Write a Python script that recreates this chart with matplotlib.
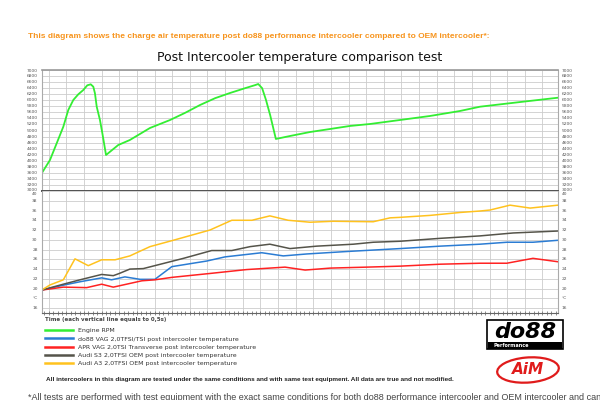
import matplotlib
matplotlib.use("Agg")
import matplotlib.pyplot as plt
from matplotlib.patches import Rectangle, Ellipse
import numpy as np

# time axis in seconds, 0 = left edge of the chart (one vertical line = 0.5 s)
rpm_time = [0.0, 0.235, 0.425, 0.613, 0.754, 0.896, 1.038, 1.18, 1.293, 1.39, 1.463, 1.51,
            1.56, 1.653, 1.72, 1.824, 2.17, 2.50, 3.07, 3.64, 4.06, 4.49, 4.92, 5.34, 5.77,
            6.05, 6.14, 6.25, 6.36, 6.48, 6.64, 7.04, 7.61, 8.18, 8.74, 9.31, 10.16, 11.01,
            11.86, 12.43, 13.56, 14.64]
rpm_values = [3585, 4025, 4577, 5126, 5678, 6008, 6197, 6339, 6494, 6527, 6448, 6230,
              5787, 5340, 4908, 4190, 4520, 4686, 5083, 5347, 5580, 5843, 6070, 6240, 6400,
              6500, 6537, 6400, 6010, 5500, 4720, 4818, 4950, 5050, 5150, 5215, 5347, 5480,
              5645, 5787, 5940, 6084]

do88_time = [0.0, 0.613, 1.086, 1.70, 1.98, 2.36, 2.79, 3.21, 3.69, 4.68, 5.20, 6.24, 6.85,
             7.52, 8.65, 10.16, 11.30, 12.43, 13.19, 13.93, 14.64]
do88_temp = [19.7, 20.7, 21.4, 22.2, 21.8, 22.4, 21.9, 21.9, 24.5, 25.65, 26.5, 27.35, 26.7,
             27.1, 27.6, 28.2, 28.7, 29.1, 29.5, 29.5, 29.9]

apr_time = [0.0, 0.613, 1.276, 1.70, 2.03, 2.84, 3.21, 3.69, 4.77, 5.81, 6.90, 7.47, 8.18,
            9.22, 10.16, 11.30, 12.43, 13.19, 13.93, 14.64]
apr_temp = [19.7, 20.3, 20.2, 20.9, 20.3, 21.6, 21.8, 22.3, 23.1, 23.9, 24.4, 23.8, 24.2,
            24.4, 24.6, 25.0, 25.2, 25.2, 26.2, 25.5]

s3_time = [0.0, 0.613, 1.086, 1.70, 2.03, 2.20, 2.50, 2.88, 3.26, 4.02, 4.82, 5.39, 5.91,
           6.47, 7.04, 7.80, 8.84, 9.40, 10.16, 11.30, 12.43, 13.37, 14.64]
s3_temp = [19.7, 20.9, 21.8, 22.9, 22.65, 23.1, 24.0, 24.1, 24.8, 26.2, 27.8, 27.8, 28.6,
           29.1, 28.2, 28.7, 29.1, 29.5, 29.7, 30.3, 30.8, 31.4, 31.8]

a3_time = [0.0, 0.235, 0.613, 0.944, 1.32, 1.70, 2.08, 2.50, 3.07, 3.73, 4.77, 5.39, 5.96,
           6.47, 6.99, 7.61, 8.27, 9.40, 9.88, 10.16, 11.01, 11.86, 12.43, 12.71, 13.28,
           13.85, 14.64]
a3_temp = [19.7, 20.75, 21.8, 26.1, 24.7, 25.9, 25.9, 26.7, 28.6, 29.9, 32.0, 34.0, 34.0,
           34.9, 34.0, 33.6, 33.8, 33.7, 34.5, 34.6, 35.0, 35.6, 35.9, 36.1, 37.1, 36.5, 37.1]

labels = ["Engine RPM",
          "do88 VAG 2,0TFSI/TSI post intercooler temperature",
          "APR VAG 2,0TSI Transverse post intercooler temperature",
          "Audi S3 2,0TFSI OEM post intercooler temperature",
          "Audi A3 2,0TFSI OEM post intercooler temperature"]
colors = ["#33ee33", "#2b7cd3", "#ff2222", "#55544a", "#ffc21e"]

rpm_ticks = list(range(3000, 7001, 200))
temp_ticks = list(range(16, 41, 2))
temp_ticklabels = ["°C" if t == 18 else str(t) for t in temp_ticks]

W, H = 600, 400
fig = plt.figure(figsize=(6, 4), dpi=100)
fig.patch.set_facecolor("white")


def fx(px):
    return px / W


def fy(py):
    return 1 - py / H


left, right = 41.7, 558
ax_rpm = fig.add_axes([fx(left), fy(191), fx(right - left), (191 - 70) / H])
ax_t = fig.add_axes([fx(left), fy(313), fx(right - left), (313 - 191) / H])

tick_font = dict(fontsize=3.2, color="#555555", va="center")

grid_x = np.arange(0.2, 14.3, 0.5)
for ax in (ax_rpm, ax_t):
    ax.set_xlim(0, 14.64)
    ax.set_xticks(grid_x)
    ax.set_xticklabels([])
    ax.grid(True, color="#cccccc", lw=0.6)
    ax.set_axisbelow(True)
    ax.tick_params(axis="y", length=0, labelleft=False)
    ax.tick_params(axis="x", length=0)
    for s in ax.spines.values():
        s.set_color("#aaaaaa")
        s.set_linewidth(0.8)

ax_rpm.plot(rpm_time, rpm_values, color=colors[0], lw=1.3)
ax_rpm.set_ylim(3000, 7000)
ax_rpm.set_yticks(rpm_ticks)
ax_rpm.spines["bottom"].set_color("#505050")
ax_rpm.spines["bottom"].set_linewidth(1.4)
ax_rpm.spines["top"].set_color("#999999")
ax_rpm.spines["top"].set_linewidth(1.2)

ax_t.plot(do88_time, do88_temp, color=colors[1], lw=1.1)
ax_t.plot(apr_time, apr_temp, color=colors[2], lw=1.1)
ax_t.plot(s3_time, s3_temp, color=colors[3], lw=1.1)
ax_t.plot(a3_time, a3_temp, color=colors[4], lw=1.1)
ax_t.set_ylim(15, 40)
ax_t.set_yticks(temp_ticks)
ax_t.spines["top"].set_visible(False)
ax_t.spines["bottom"].set_color("#666666")
ax_t.set_xticks(np.arange(0.075, 14.64, 0.125), minor=True)
ax_t.tick_params(axis="x", which="both", direction="inout", length=2.5, color="#777777",
                 width=0.6)

# y labels on both sides, nudged at the panel edges like in the source image
for v in rpm_ticks:
    py = 191 - (v - 3000) / 4000 * 121
    if v == 7000:
        py += 1.5
    if v == 3000:
        py -= 1.4
    fig.text(fx(left - 4), fy(py), str(v), ha="right", **tick_font)
    fig.text(fx(right + 4), fy(py), str(v), ha="left", **tick_font)
for v, lab in zip(temp_ticks, temp_ticklabels):
    py = 313 - (v - 15) / 25 * 122
    if v == 40:
        py += 3.2
    fig.text(fx(left - 4), fy(py), lab, ha="right", **tick_font)
    fig.text(fx(right + 4), fy(py), lab, ha="left", **tick_font)

fig.text(fx(28), fy(37), "This diagram shows the charge air temperature post do88 performance "
         "intercooler compared to OEM intercooler*:", color="#f7941d", fontsize=6,
         fontweight="bold", family="Liberation Sans", va="center")
fig.text(0.5, fy(57), "Post Intercooler temperature comparison test", fontsize=9,
         ha="center", va="center", color="#111111")
fig.text(fx(45), fy(319), "Time (each vertical line equals to 0,5s)", fontsize=4,
         fontweight="bold", color="#444444", va="center")

handles = ax_rpm.get_lines() + ax_t.get_lines()
fig.legend(handles, labels, loc="upper left", bbox_to_anchor=(fx(42), fy(325.5)),
           frameon=False, fontsize=4.5, handlelength=4.6, handletextpad=0.8,
           labelspacing=0.45, borderaxespad=0, labelcolor="#333333")
for ln in fig.legends[0].get_lines():
    ln.set_linewidth(1.8)

fig.text(fx(46), fy(380), "All intercoolers in this diagram are tested under the same conditions "
         "and with same test equipment. All data are true and not modified.",
         fontsize=4.6, fontweight="bold", family="Liberation Sans", color="#222222",
         va="center")
fig.text(fx(28), fy(397), "*All tests are performed with test equipment with the exact same "
         "conditions for both do88 performance intercooler and OEM intercooler and can",
         fontsize=6.5, family="Liberation Sans", color="#444444", va="center")

# do88 logo
fig.add_artist(Rectangle((fx(487), fy(349)), fx(76), 29 / H, transform=fig.transFigure,
                         facecolor="white", edgecolor="black", lw=1.2))
fig.add_artist(Rectangle((fx(488), fy(349)), fx(74), 7 / H, transform=fig.transFigure,
                         facecolor="black", edgecolor="none"))
fig.text(fx(525), fy(332), "do88", fontsize=16, fontweight="heavy", style="italic",
         ha="center", va="center", color="black")
fig.text(fx(493), fy(345.5), "Performance", fontsize=3.5, fontweight="bold",
         color="white", va="center")

# AiM logo
fig.add_artist(Ellipse((fx(528), fy(370)), fx(62), 25 / H, angle=8,
                       transform=fig.transFigure, facecolor="white",
                       edgecolor="#e01b1b", lw=1.6))
fig.text(fx(528), fy(370), "AiM", fontsize=11, fontweight="heavy", style="italic",
         ha="center", va="center", color="#e01b1b")

fig.savefig("out.png", dpi=100)
